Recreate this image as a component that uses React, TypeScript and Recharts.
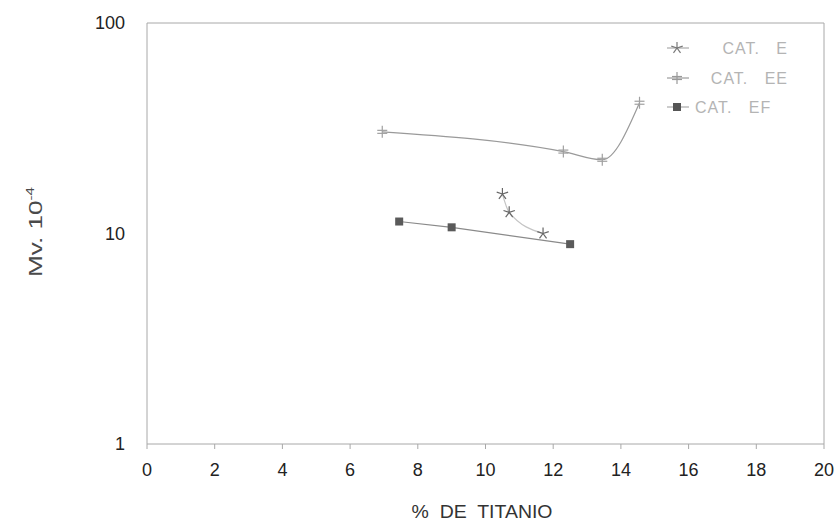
import React from "react";
import { LineChart, Line, XAxis, YAxis, Legend, ReferenceLine } from "recharts";

const catE = [
  { x: 10.5, y: 15.4 },
  { x: 10.7, y: 12.6 },
  { x: 11.7, y: 10.0 },
];
const catEE = [
  { x: 6.95, y: 30.4 },
  { x: 12.3, y: 24.5 },
  { x: 13.45, y: 22.4 },
  { x: 14.55, y: 41.8 },
];
const catEF = [
  { x: 7.45, y: 11.4 },
  { x: 9.0, y: 10.7 },
  { x: 12.5, y: 8.9 },
];
const xTicks = [0, 2, 4, 6, 8, 10, 12, 14, 16, 18, 20];
const yTicks = [1, 10, 100];
const seriesNames = ["CAT.   E", "CAT.   EE", "CAT.   EF"];
const xTitle = "%  DE  TITANIO";

const FONT = "'Liberation Sans', Arial, sans-serif";

const StarMark = ({ cx, cy, color = "#555", r = 6 }: any) => {
  const pts = [0, 1, 2, 3, 4].map((i) => {
    const a = -Math.PI / 2 + (i * 2 * Math.PI) / 5;
    return [cx + r * Math.cos(a), cy + r * Math.sin(a)];
  });
  return (
    <g stroke={color} strokeWidth={1.2}>
      {pts.map((p, i) => (
        <line key={i} x1={cx} y1={cy} x2={p[0]} y2={p[1]} />
      ))}
    </g>
  );
};

const PlusMark = ({ cx, cy, color = "#999" }: any) => (
  <g stroke={color} strokeWidth={1.2}>
    <line x1={cx} y1={cy - 6} x2={cx} y2={cy + 6} />
    <line x1={cx - 5} y1={cy - 1.5} x2={cx + 5} y2={cy - 1.5} />
    <line x1={cx - 5} y1={cy + 1.5} x2={cx + 5} y2={cy + 1.5} />
  </g>
);

const SquareMark = ({ cx, cy, color = "#555" }: any) => (
  <rect x={cx - 4} y={cy - 4} width={8} height={8} fill={color} />
);

const dotE = (p: any) => <StarMark key={p.index} cx={p.cx} cy={p.cy} color="#666" />;
const dotEE = (p: any) => <PlusMark key={p.index} cx={p.cx} cy={p.cy} color="#a0a0a0" />;
const dotEF = (p: any) => <SquareMark key={p.index} cx={p.cx} cy={p.cy} color="#5a5a5a" />;

// overlay coordinates are relative to the chart container (page offset 8,8)
const Overlay = () => {
  const mx = 669;
  const rows = [
    { y: 40, mark: <StarMark cx={mx} cy={40} color="#777" />, lineColor: "#999", tx: 780, anchor: "end" },
    { y: 70, mark: <PlusMark cx={mx} cy={70} color="#999" />, lineColor: "#888", tx: 780, anchor: "end" },
    { y: 99, mark: <SquareMark cx={mx} cy={99} color="#555" />, lineColor: "#999", tx: 687, anchor: "start" },
  ];
  return (
    <svg
      width={827}
      height={521}
      style={{ position: "absolute", left: 0, top: 0, pointerEvents: "none", overflow: "visible" }}
    >
      {rows.map((r, i) => (
        <g key={i}>
          <line x1={659} y1={r.y} x2={681} y2={r.y} stroke={r.lineColor} strokeWidth={1} />
          {r.mark}
          <text
            x={r.tx}
            y={r.y + 6}
            textAnchor={r.anchor as any}
            fontFamily={FONT}
            fontSize={16}
            letterSpacing={1}
            fill="#b4b4b4"
            style={{ whiteSpace: "pre" }}
          >
            {seriesNames[i]}
          </text>
        </g>
      ))}
      <text
        transform="translate(34, 224) rotate(-90)"
        textAnchor="middle"
        fontFamily={FONT}
        fontSize={19}
        fill="#4a4a4a"
        textLength={90}
        lengthAdjust="spacingAndGlyphs"
      >
        Mv. 10
        <tspan dy={-8} fontSize={11}>-4</tspan>
      </text>
      <text
        x={474}
        y={510}
        textAnchor="middle"
        fontFamily={FONT}
        fontSize={19}
        fill="#333"
        textLength={141}
        lengthAdjust="spacingAndGlyphs"
        style={{ whiteSpace: "pre" }}
      >
        {xTitle}
      </text>
    </svg>
  );
};

export default function App() {
  return (
    <div style={{ paddingTop: 8, paddingLeft: 8, width: 835, height: 529, boxSizing: "border-box" }}>
      <style>{"html,body{margin:0;padding:0;overflow:hidden;}"}</style>
      <div style={{ position: "relative", width: 827, height: 513 }}>
        <LineChart
          width={827}
          height={513}
          margin={{ top: 15, right: 11, left: 79, bottom: 37 }}
          style={{ overflow: "visible" }}
        >
          <XAxis
            type="number"
            dataKey="x"
            domain={[0, 20]}
            ticks={xTicks}
            interval={0}
            allowDataOverflow
            stroke="#a8a8a8"
            tickLine={{ stroke: "#a8a8a8" }}
            tickSize={5}
            height={40}
            tick={{ fill: "#222", fontSize: 18, fontFamily: FONT, dy: 12 }}
          />
          <YAxis
            type="number"
            scale="log"
            domain={[1, 100]}
            ticks={yTicks}
            interval={0}
            allowDataOverflow
            stroke="#a8a8a8"
            tickLine={false}
            width={60}
            tick={{ fill: "#222", fontSize: 18, fontFamily: FONT, dx: -14 }}
          />
          <ReferenceLine y={100} stroke="#a8a8a8" />
          <ReferenceLine x={20} stroke="#a8a8a8" />
          <Line
            data={catE}
            dataKey="y"
            name={seriesNames[0]}
            type="monotone"
            stroke="#c4c4c4"
            strokeWidth={1.2}
            dot={dotE}
            isAnimationActive={false}
          />
          <Line
            data={catEE}
            dataKey="y"
            name={seriesNames[1]}
            type="monotone"
            stroke="#9a9a9a"
            strokeWidth={1.2}
            dot={dotEE}
            isAnimationActive={false}
          />
          <Line
            data={catEF}
            dataKey="y"
            name={seriesNames[2]}
            type="linear"
            stroke="#8a8a8a"
            strokeWidth={1.2}
            dot={dotEF}
            isAnimationActive={false}
          />
          <Legend content={() => null} />
        </LineChart>
        <Overlay />
      </div>
    </div>
  );
}
